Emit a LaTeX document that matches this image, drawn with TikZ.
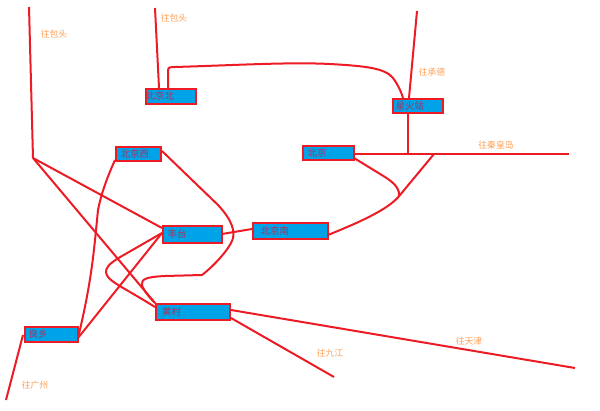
\documentclass[tikz,border=0pt]{standalone}
\usepackage{fontspec}
\setmainfont{Noto Sans CJK SC}
\definecolor{lineRed}{HTML}{ED1C24}
\definecolor{stationBlue}{HTML}{00A2E8}
\definecolor{stationText}{HTML}{A8325E}
\definecolor{dirOrange}{HTML}{FF9F55}
\tikzset{
  track/.style={draw=lineRed,line width=2pt,line join=round},
  station/.style={draw=lineRed,fill=stationBlue,line width=2pt,inner sep=0pt,anchor=north west},
  stationlabel/.style={text=stationText,font=\fontsize{9.4}{9.4}\selectfont,anchor=west,inner sep=0pt},
  dirlabel/.style={text=dirOrange,font=\fontsize{8.8}{9}\selectfont,inner sep=0pt}
}
\newcommand{\stn}[6]{%
  \node[station,minimum width=#3pt-2pt,minimum height=#4pt-2pt] (#1) at (#2) {};
  \node[stationlabel] (#1t) at ([xshift=#5pt]#1.west) {#6};
}
\begin{document}
\begin{tikzpicture}[x=1pt,y=-1pt]
\useasboundingbox (0,0) rectangle (600,410);
% free ends
\coordinate (baoL) at (29,7);
\coordinate (junc) at (33,158);
\coordinate (baoR) at (155,8);
\coordinate (cheng) at (417,11);
\coordinate (qin) at (569,154);
\coordinate (forkE) at (434,154);
\coordinate (forkV) at (408,154);
\coordinate (tian) at (575,368);
\coordinate (jiu) at (334,377);
\coordinate (guang) at (6,400);
% tracks first, stations on top
\coordinate (bjbA) at (168,88);
\coordinate (xhA) at (403,98);
\coordinate (xhB) at (409,98);
\coordinate (xhC) at (408,113);
\coordinate (bjE) at (354,154);
\coordinate (bjSE) at (354,158);
\coordinate (bjbB) at (159,88);
\coordinate (bjxL) at (115,160);
\coordinate (bjxR) at (162,151);
\coordinate (ftL) at (162,233);
\coordinate (ftL2) at (162,228);
\coordinate (ftR) at (222,234);
\coordinate (bjnL) at (252,229);
\coordinate (bjnR) at (328,235);
\coordinate (hcT) at (155,303);
\coordinate (hcL) at (155,307);
\coordinate (hcR1) at (231,310);
\coordinate (hcR2) at (231,318);
\coordinate (lxR) at (78,338);
\coordinate (lxL) at (23,335);
\draw[track] (baoL) -- (junc);
\draw[track] (junc) -- (ftL2);
\draw[track] (junc) -- (hcT);
\draw[track] (baoR) -- (bjbB);
\draw[track] (bjbA) -- (168,71) .. controls (168,67) and (170,67) .. (175,67)
  .. controls (240,65) and (290,62) .. (330,64)
  .. controls (365,66) and (385,68) .. (393,78)
  .. controls (398,85) and (401,91) .. (xhA);
\draw[track] (cheng) -- (xhB);
\draw[track] (xhC) -- (forkV);
\draw[track] (bjE) -- (qin);
\draw[track] (forkE) -- (400,195)
  .. controls (390,208) and (365,220) .. (bjnR);
\draw[track] (bjSE) -- (385,177) .. controls (396,184) and (400,190) .. (399,197);
\draw[track] (bjxL) .. controls (106,180) and (101,195) .. (98,210)
  .. controls (94,250) and (92,280) .. (lxR);
\draw[track] (bjxR) -- (218,205) .. controls (232,220) and (236,232) .. (232,241)
  .. controls (228,250) and (215,265) .. (202,275)
  -- (165,276) .. controls (146,277) and (141,279) .. (142,285)
  .. controls (143,290) and (150,298) .. (hcT);
\draw[track] (ftL) -- (lxR);
\draw[track] (ftL) -- (122,256) .. controls (108,264) and (106,268) .. (106,272)
  .. controls (107,281) and (118,284) .. (hcL);
\draw[track] (ftR) -- (bjnL);
\draw[track] (hcR1) -- (tian);
\draw[track] (hcR2) -- (jiu);
\draw[track] (lxL) -- (guang);
% stations
\stn{bjb}{144.5,87.5}{52}{17}{1}{北京北}
\stn{bjx}{114.5,145.5}{47}{16}{6}{北京西}
\stn{xh}{391.5,97.5}{52}{16}{4}{星火站}
\stn{bj}{301.5,144.5}{53}{16}{6}{北京}
\stn{ft}{161.5,224.5}{61}{19}{6}{丰台}
\stn{bjn}{251.5,221.5}{77}{18}{9}{北京南}
\stn{hc}{155,302.5}{76}{18}{7}{黄村}
\stn{lx}{23.5,325.5}{55}{17}{5}{良乡}
% direction labels
\node[dirlabel] (d1) at (54,34) {往包头};
\node[dirlabel] (d2) at (174,18) {往包头};
\node[dirlabel] (d3) at (432,72) {往承德};
\node[dirlabel] (d4) at (496,145) {往秦皇岛};
\node[dirlabel] (d5) at (330,353) {往九江};
\node[dirlabel] (d6) at (469,341) {往天津};
\node[dirlabel] (d7) at (35,385) {往广州};
\end{tikzpicture}
\end{document}
